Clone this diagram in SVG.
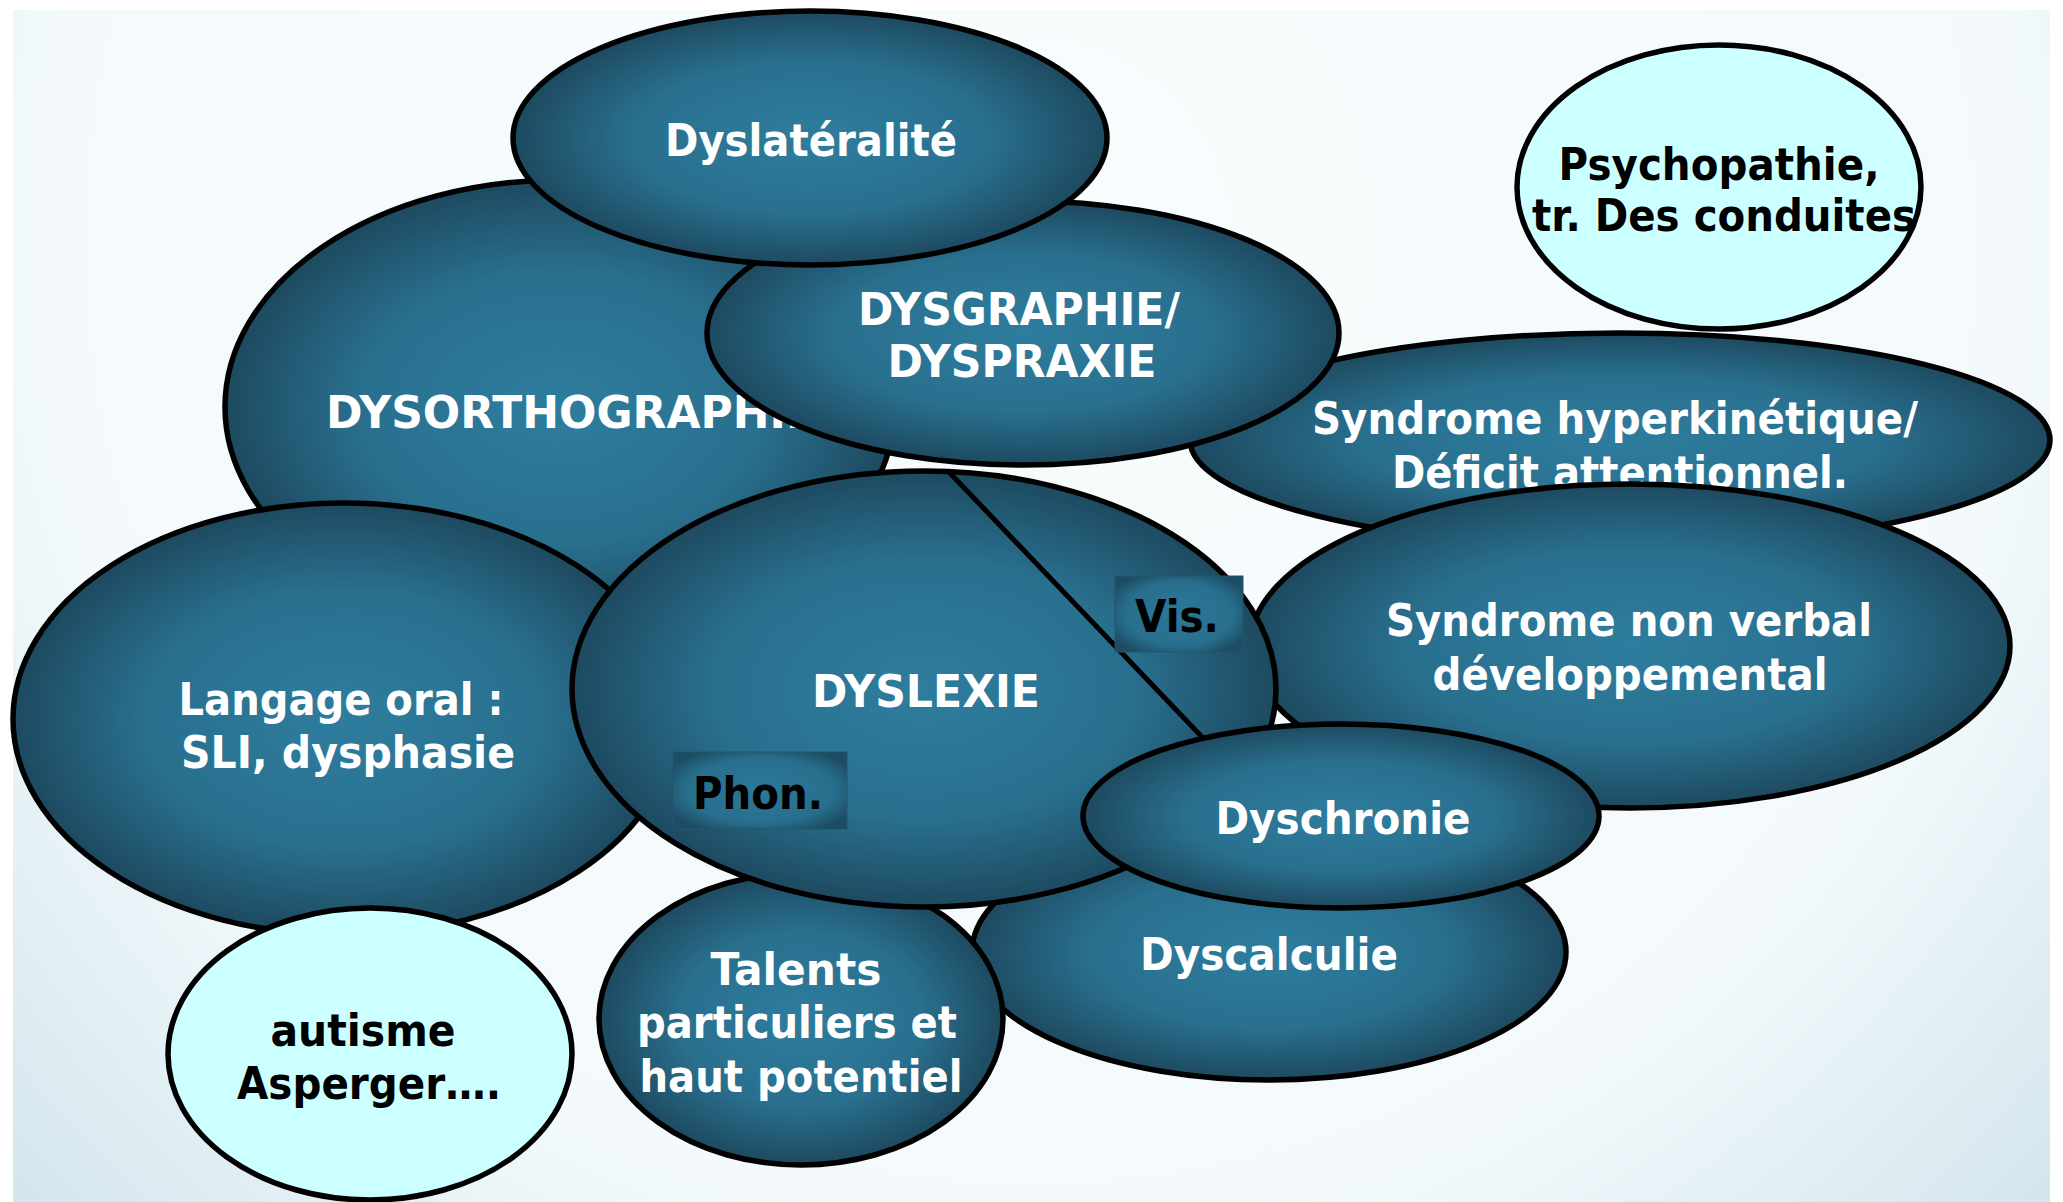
<svg xmlns="http://www.w3.org/2000/svg" width="2063" height="1202" viewBox="0 0 2063 1202">
<defs>
<radialGradient id="bg" gradientUnits="userSpaceOnUse" cx="1031" cy="240" r="1450">
<stop offset="0" stop-color="#f7fcfd"/>
<stop offset="0.68" stop-color="#f4fafc"/>
<stop offset="1" stop-color="#cfe3eb"/>
</radialGradient>
<radialGradient id="gBlue" cx="0.5" cy="0.5" r="0.5">
<stop offset="0" stop-color="#2e7d9e"/>
<stop offset="0.6" stop-color="#296f8e"/>
<stop offset="1" stop-color="#1d4a60"/>
</radialGradient>
<radialGradient id="gBox" cx="0.5" cy="0.5" r="0.6">
<stop offset="0" stop-color="#2c7897"/>
<stop offset="0.7" stop-color="#286f8d"/>
<stop offset="1" stop-color="#1d4d64"/>
</radialGradient>
<style>
.bub{fill:url(#gBlue);stroke:#000;stroke-width:5.5}
.lite{fill:#ccffff;stroke:#000;stroke-width:5.5}
.box{fill:url(#gBox);stroke:#22566e;stroke-width:1}
.t{font-family:"DejaVu Sans",Verdana,sans-serif;font-weight:bold;font-size:44px;text-anchor:middle}
.w{fill:#fff}
.k{fill:#000}
.conn{stroke:#000;stroke-width:5;fill:none}
</style>
</defs>
<rect x="13" y="10" width="2037" height="1192" fill="url(#bg)"/>

<g id="node-hyperkinetique">
<ellipse class="bub" cx="1620" cy="440" rx="430" ry="107"/>
<text class="t w" x="1615" y="434" textLength="606" lengthAdjust="spacingAndGlyphs">Syndrome hyperkinétique/</text>
<text class="t w" x="1620" y="488" textLength="456" lengthAdjust="spacingAndGlyphs">Déficit attentionnel.</text>
</g>
<g id="node-psychopathie">
<ellipse class="lite" cx="1719" cy="187" rx="202" ry="142"/>
<text class="t k" x="1719" y="180" textLength="321" lengthAdjust="spacingAndGlyphs">Psychopathie,</text>
<text class="t k" x="1724" y="231" textLength="384" lengthAdjust="spacingAndGlyphs">tr. Des conduites</text>
</g>
<g id="node-dysorthographie">
<ellipse class="bub" cx="560" cy="407" rx="335" ry="227"/>
<text class="t w" x="326" y="428" style="text-anchor:start">DYSORTHOGRAPHIE</text>
</g>
<g id="node-dysgraphie">
<ellipse class="bub" cx="1023" cy="333" rx="316" ry="132"/>
<text class="t w" x="1019" y="325" textLength="322" lengthAdjust="spacingAndGlyphs">DYSGRAPHIE/</text>
<text class="t w" x="1022" y="377" textLength="269" lengthAdjust="spacingAndGlyphs">DYSPRAXIE</text>
</g>
<g id="node-dyslateralite">
<ellipse class="bub" cx="810" cy="138" rx="297" ry="127"/>
<text class="t w" x="811" y="156" textLength="292" lengthAdjust="spacingAndGlyphs">Dyslatéralité</text>
</g>
<g id="node-non-verbal">
<ellipse class="bub" cx="1630" cy="646" rx="380" ry="162"/>
<text class="t w" x="1629" y="636" textLength="486" lengthAdjust="spacingAndGlyphs">Syndrome non verbal</text>
<text class="t w" x="1630" y="690" textLength="395" lengthAdjust="spacingAndGlyphs">développemental</text>
</g>
<g id="node-langage-oral">
<ellipse class="bub" cx="344" cy="719" rx="331" ry="216"/>
<text class="t w" x="341" y="715" textLength="325" lengthAdjust="spacingAndGlyphs">Langage oral :</text>
<text class="t w" x="348" y="768" textLength="334" lengthAdjust="spacingAndGlyphs">SLI, dysphasie</text>
</g>
<g id="node-dyscalculie">
<ellipse class="bub" cx="1269" cy="952" rx="297" ry="128"/>
<text class="t w" x="1269" y="970" textLength="258" lengthAdjust="spacingAndGlyphs">Dyscalculie</text>
</g>
<g id="node-talents">
<ellipse class="bub" cx="801" cy="1019" rx="202" ry="146"/>
<text class="t w" x="796" y="985" textLength="171" lengthAdjust="spacingAndGlyphs">Talents</text>
<text class="t w" x="797" y="1038" textLength="320" lengthAdjust="spacingAndGlyphs">particuliers et</text>
<text class="t w" x="801" y="1092" textLength="323" lengthAdjust="spacingAndGlyphs">haut potentiel</text>
</g>
<g id="node-dyslexie">
<ellipse class="bub" cx="924" cy="689" rx="352" ry="218"/>
<text class="t w" x="926" y="707" textLength="228" lengthAdjust="spacingAndGlyphs">DYSLEXIE</text>
</g>
<g id="connectors">
<line class="conn" x1="948" y1="471" x2="1203" y2="738"/>
</g>
<g id="node-vis">
<rect class="box" x="1115" y="576" width="128" height="76"/>
<text class="t k" x="1177" y="632" textLength="84" lengthAdjust="spacingAndGlyphs">Vis.</text>
</g>
<g id="node-phon">
<rect class="box" x="673" y="752" width="174" height="77"/>
<text class="t k" x="758" y="809" textLength="130" lengthAdjust="spacingAndGlyphs">Phon.</text>
</g>
<g id="node-dyschronie">
<ellipse class="bub" cx="1341" cy="816" rx="258" ry="92"/>
<text class="t w" x="1343" y="834" textLength="255" lengthAdjust="spacingAndGlyphs">Dyschronie</text>
</g>
<g id="node-autisme">
<ellipse class="lite" cx="370" cy="1054" rx="202" ry="146"/>
<text class="t k" x="363" y="1046" textLength="185" lengthAdjust="spacingAndGlyphs">autisme</text>
<text class="t k" x="369" y="1099" textLength="264" lengthAdjust="spacingAndGlyphs">Asperger….</text>
</g>
</svg>
